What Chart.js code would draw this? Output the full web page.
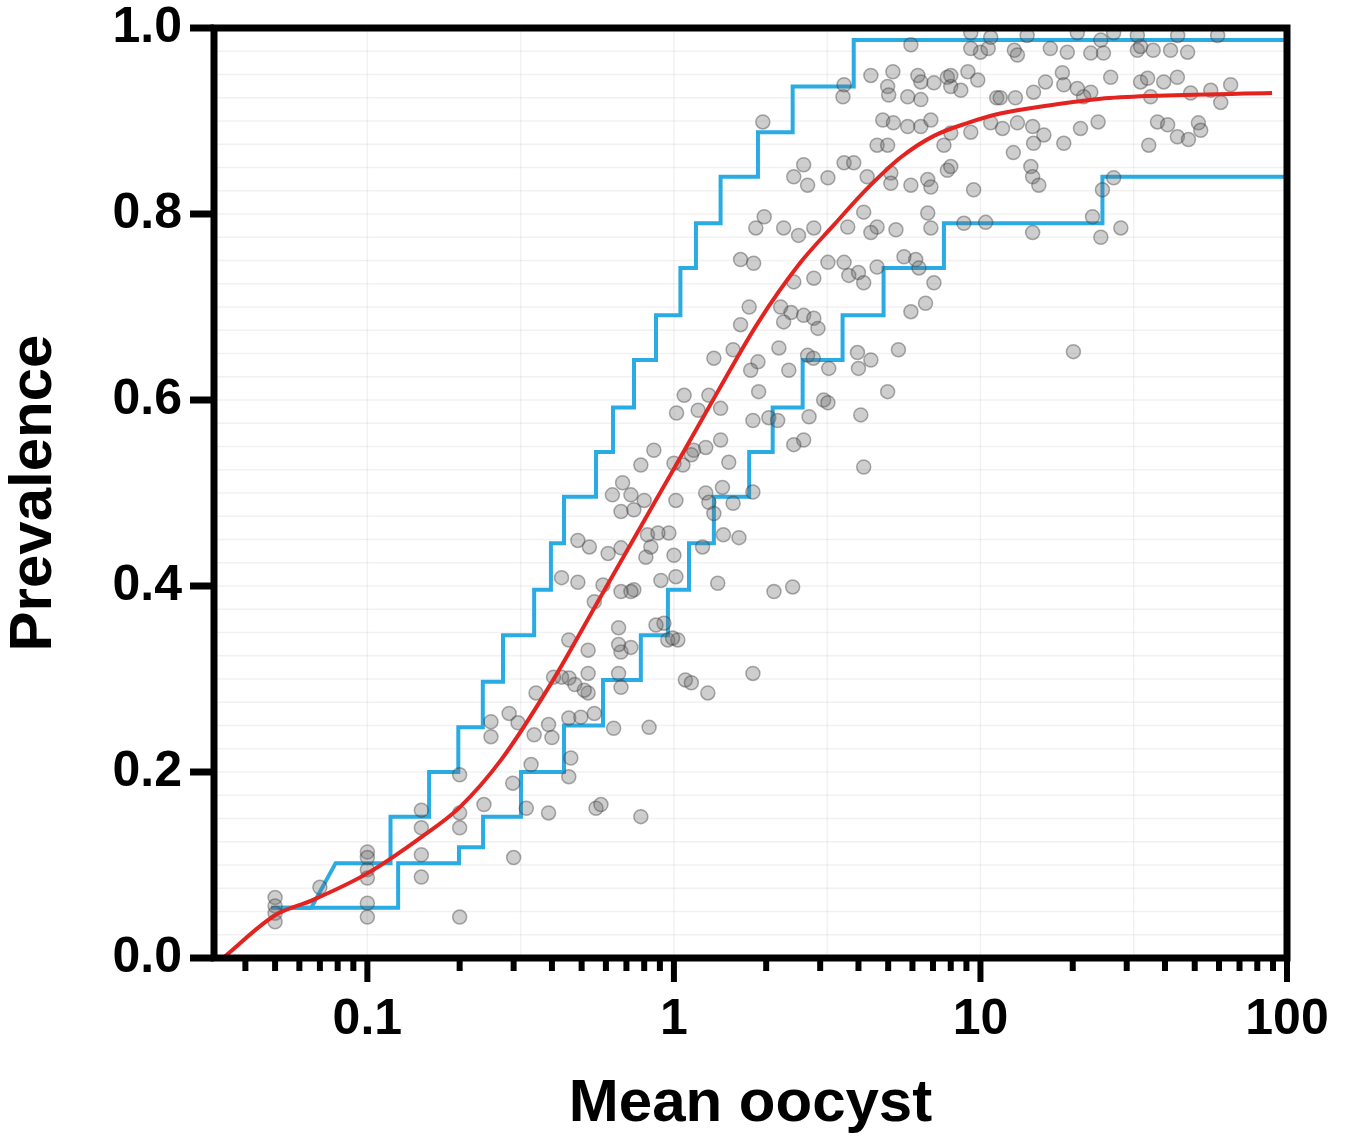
<!DOCTYPE html>
<html>
<head>
<meta charset="utf-8">
<script src="https://cdn.jsdelivr.net/npm/chart.js@4.4.0/dist/chart.umd.min.js"></script>
<style>
  html, body { margin: 0; padding: 0; background: #fff; }
  #wrap { width: 1353px; height: 1137px; }
</style>
</head>
<body>
<div id="wrap"><canvas id="prevChart" width="1353" height="1137"></canvas></div>
<script>
// observed feeds: mean oocyst per mosquito vs prevalence
const meanOocyst = [
  0.05, 0.05, 0.05, 0.05, 0.07, 0.1, 0.1, 0.1, 0.1, 0.1, 0.1, 0.15, 0.15, 0.15, 0.15, 0.2, 0.2, 0.2, 0.2,
  0.253, 0.253, 0.24, 0.298, 0.33, 0.39, 0.30, 0.355, 0.35, 0.342, 0.405, 0.455, 0.525, 0.525, 0.55, 0.557,
  0.29, 0.40, 0.39, 0.461, 0.454, 0.31, 0.454, 0.497, 0.636, 0.83, 1.09, 1.14, 1.29, 1.81, 0.578, 0.78,
  0.51, 0.66, 0.672, 0.43, 0.672, 0.66, 0.724, 0.525, 0.454, 0.955, 1.03, 0.43, 0.486, 0.587, 0.672, 0.55,
  0.74, 0.66, 0.475,
  1.76, 1.65, 2.23, 2.41, 2.65, 2.86, 2.95, 2.28, 5.93, 6.62, 1.35, 1.56, 1.88, 1.78, 1.89, 2.2, 2.37, 2.73,
  2.85, 3.2, 3.97, 4.39, 4.0, 5.4, 4.98, 4.07, 4.16, 1.08, 1.3, 1.2, 1.42, 1.02, 1.81, 2.04, 2.18, 2.76,
  3.08, 3.18, 2.65, 2.46, 0.86, 0.78, 1.16, 1.27, 1.42, 1.14, 1.51, 1.07, 1.0, 0.68, 0.63, 0.724, 0.8,
  0.672, 0.74, 1.015, 1.27, 1.3, 1.44, 1.35, 1.56, 1.81, 0.486, 0.53, 0.61, 0.672, 0.82, 0.963, 0.887,
  0.841, 0.81, 1.0, 1.45, 1.63, 1.24, 0.724, 0.907, 1.015, 1.39, 0.928, 0.874, 0.99, 2.44, 2.12,
  1.95, 3.56, 3.59, 4.39, 5.18, 4.98, 5.02, 5.79, 6.39, 6.25, 6.39, 7.05, 7.8, 8.0, 8.63, 9.1, 9.8, 10.0,
  10.6, 9.3, 5.93, 4.8, 5.2, 5.79, 6.39, 6.89, 4.6, 4.98, 7.6, 9.3, 11.3, 2.65, 3.59, 3.86, 2.46, 2.73,
  3.18, 5.1, 5.93, 6.73, 6.89, 7.8, 9.5, 4.27, 5.1, 1.97, 1.85, 2.28, 2.55, 2.86, 3.69, 4.16, 4.6, 5.3,
  4.39, 6.73, 6.89, 8.83, 5.63, 6.15, 6.3, 7.05, 1.65, 1.82, 3.18, 3.59, 3.72, 4.0, 4.16, 4.6, 2.46, 2.86,
  12.9, 16.9, 19.2, 22.9, 25.2, 32.5, 33.3, 36.6, 41.7, 47.4, 13.2, 9.3, 14.2, 20.7, 27.2, 32.5, 44, 59.4,
  24.7, 10.8, 8.0, 11.6, 13.0, 14.9, 16.3, 18.5, 18.7, 26.6, 33.3, 35.1, 39.6, 43.9, 65.5, 56.4, 60.8,
  48.5, 35.9, 22.9, 21.7, 20.7, 8.0, 10.8, 11.8, 13.2, 14.8, 16.1, 14.9, 12.8, 8.0, 18.7, 21.2, 24.2,
  35.4, 37.8, 40.8, 43.9, 47.7, 51.4, 52.3, 14.6, 14.8, 15.5, 10.4, 14.8, 23.2, 24.7, 28.7, 25.0, 27.2,
  20.1
];
const prevalence = [
  0.065, 0.056, 0.048, 0.039, 0.076, 0.114, 0.108, 0.095, 0.086, 0.059, 0.044, 0.159, 0.14, 0.111, 0.087, 0.197, 0.156, 0.14, 0.044,
  0.254, 0.238, 0.165, 0.188, 0.161, 0.156, 0.108, 0.285, 0.24, 0.208, 0.302, 0.301, 0.306, 0.285, 0.263, 0.161,
  0.263, 0.237, 0.251, 0.215, 0.195, 0.253, 0.258, 0.259, 0.247, 0.248, 0.299, 0.296, 0.285, 0.306, 0.165, 0.152,
  0.288, 0.306, 0.291, 0.302, 0.329, 0.337, 0.334, 0.331, 0.342, 0.342, 0.342, 0.409, 0.404, 0.401, 0.394, 0.383,
  0.396, 0.355, 0.294,
  0.70, 0.681, 0.70, 0.694, 0.691, 0.688, 0.677, 0.684, 0.695, 0.704, 0.645, 0.654, 0.641, 0.632, 0.609, 0.656, 0.632, 0.648,
  0.645, 0.634, 0.651, 0.643, 0.634, 0.654, 0.609, 0.584, 0.528, 0.605, 0.605, 0.589, 0.591, 0.586, 0.578, 0.581, 0.578, 0.582,
  0.60, 0.597, 0.557, 0.552, 0.546, 0.53, 0.546, 0.549, 0.557, 0.541, 0.533, 0.53, 0.532, 0.511, 0.498, 0.498, 0.492,
  0.48, 0.482, 0.492, 0.50, 0.49, 0.506, 0.478, 0.489, 0.501, 0.449, 0.442, 0.435, 0.441, 0.455, 0.457, 0.457,
  0.442, 0.431, 0.433, 0.455, 0.452, 0.442, 0.394, 0.406, 0.41, 0.403, 0.36, 0.358, 0.344, 0.399, 0.394,
  0.899, 0.926, 0.939, 0.949, 0.953, 0.937, 0.928, 0.926, 0.923, 0.949, 0.942, 0.941, 0.947, 0.937, 0.933, 0.953, 0.944, 0.974,
  0.978, 0.978, 0.982, 0.901, 0.898, 0.894, 0.894, 0.901, 0.874, 0.874, 0.874, 0.888, 0.925, 0.853, 0.855, 0.855, 0.84, 0.831,
  0.839, 0.844, 0.831, 0.837, 0.829, 0.847, 0.826, 0.84, 0.833, 0.797, 0.785, 0.785, 0.777, 0.785, 0.786, 0.802, 0.786, 0.783,
  0.78, 0.801, 0.785, 0.79, 0.754, 0.751, 0.742, 0.726, 0.751, 0.747, 0.748, 0.748, 0.734, 0.737, 0.726, 0.743, 0.727, 0.731,
  0.976, 0.978, 0.974, 0.973, 0.973, 0.976, 0.98, 0.976, 0.976, 0.974, 0.971, 0.995, 0.992, 0.995, 0.995, 0.992, 0.992, 0.992,
  0.987, 0.99, 0.949, 0.925, 0.925, 0.931, 0.942, 0.952, 0.939, 0.947, 0.942, 0.946, 0.942, 0.947, 0.939, 0.933, 0.92,
  0.93, 0.926, 0.931, 0.926, 0.935, 0.887, 0.898, 0.892, 0.898, 0.894, 0.885, 0.876, 0.866, 0.851, 0.876, 0.892, 0.899,
  0.874, 0.899, 0.896, 0.883, 0.88, 0.898, 0.89, 0.851, 0.84, 0.831, 0.791, 0.78, 0.797, 0.775, 0.785, 0.826, 0.839,
  0.652
];

// fitted curve
const fitX = [0.0338, 0.05, 0.066, 0.1, 0.15, 0.2, 0.273, 0.397, 0.578, 0.78, 1.0, 1.39, 1.88, 2.59, 3.32, 4.29, 5.5, 7.05, 9.1, 11.6, 16.9, 24.7, 35.9, 89.4];
const fitY = [0.0, 0.046, 0.062, 0.091, 0.13, 0.162, 0.213, 0.295, 0.389, 0.464, 0.526, 0.609, 0.683, 0.748, 0.788, 0.828, 0.861, 0.884, 0.898, 0.908, 0.917, 0.924, 0.927, 0.930];

// upper bound: level i runs from upperFrom[i] to upperTo[i]
const upperFrom = [0.0485, 0.0788, 0.119, 0.159, 0.198, 0.238, 0.277, 0.35, 0.397, 0.438, 0.557, 0.633, 0.741, 0.874, 1.05, 1.18, 1.42, 1.88, 2.44, 3.86];
const upperTo = [0.0656, 0.119, 0.159, 0.198, 0.238, 0.277, 0.35, 0.397, 0.438, 0.557, 0.633, 0.741, 0.874, 1.05, 1.18, 1.42, 1.88, 2.44, 3.86, 100];
const upperLevel = [0.054, 0.102, 0.152, 0.2, 0.248, 0.297, 0.347, 0.396, 0.446, 0.496, 0.544, 0.592, 0.643, 0.691, 0.742, 0.79, 0.84, 0.888, 0.937, 0.987];

// lower bound
const lowerFrom = [0.0503, 0.126, 0.199, 0.2385, 0.317, 0.438, 0.587, 0.78, 0.956, 1.12, 1.35, 1.76, 2.1, 2.63, 3.55, 4.83, 7.6, 25.0];
const lowerTo = [0.126, 0.199, 0.2385, 0.317, 0.438, 0.587, 0.78, 0.956, 1.12, 1.35, 1.76, 2.1, 2.63, 3.55, 4.83, 7.6, 25.0, 100];
const lowerLevel = [0.054, 0.102, 0.119, 0.152, 0.2, 0.25, 0.299, 0.347, 0.396, 0.446, 0.496, 0.544, 0.592, 0.643, 0.691, 0.742, 0.79, 0.84];

const xLabelTicks = [0.1, 1, 10, 100];
const yLabelTicks = [0, 0.2, 0.4, 0.6, 0.8, 1.0];

const FONT = "'Liberation Sans', Arial, Helvetica, sans-serif";
const BLUE = '#2aabe3';
const RED = '#e3231f';

function stepPoints(from, to, level) {
  const pts = [];
  for (let i = 0; i < level.length; i++) {
    pts.push({x: from[i], y: level[i]});
    pts.push({x: to[i], y: level[i]});
  }
  return pts;
}

// drop the label overflow padding chart.js adds, so the layout padding decides the plot box
function noPad(ax) {
  ax.paddingTop = 0; ax.paddingBottom = 0; ax.paddingLeft = 0; ax.paddingRight = 0;
}

// faint grid underneath, thick frame + ticks on top
const framePlugin = {
  id: 'frame',
  beforeDatasetsDraw(chart) {
    const {ctx, chartArea: a, scales: {x, y}} = chart;
    ctx.save();
    ctx.strokeStyle = 'rgba(0,0,0,0.055)';
    ctx.lineWidth = 1.5;
    for (let k = 1; k < 40; k++) {
      const py = y.getPixelForValue(k * 0.025);
      ctx.beginPath(); ctx.moveTo(a.left, py); ctx.lineTo(a.right, py); ctx.stroke();
    }
    for (let e = -1; e < 2; e += 0.5) {
      const px = x.getPixelForValue(Math.pow(10, e));
      ctx.beginPath(); ctx.moveTo(px, a.top); ctx.lineTo(px, a.bottom); ctx.stroke();
    }
    ctx.restore();
  },
  afterDatasetsDraw(chart) {
    const {ctx, chartArea: a, scales: {x, y}} = chart;
    ctx.save();
    ctx.strokeStyle = '#000';
    ctx.lineWidth = 7;
    ctx.strokeRect(a.left, a.top, a.right - a.left, a.bottom - a.top);

    // y ticks
    yLabelTicks.forEach(v => {
      const py = y.getPixelForValue(v);
      ctx.beginPath(); ctx.moveTo(a.left - 24, py); ctx.lineTo(a.left, py); ctx.stroke();
    });

    // x ticks, log minor ticks
    ctx.lineWidth = 6;
    for (let e = -2; e <= 2; e++) {
      for (let m = 1; m <= 9; m++) {
        const v = m * Math.pow(10, e);
        if (v < x.min || v > x.max * 1.0001) continue;
        const px = x.getPixelForValue(v);
        const len = m === 1 ? 24 : 13;
        ctx.beginPath(); ctx.moveTo(px, a.bottom); ctx.lineTo(px, a.bottom + len); ctx.stroke();
      }
    }
    ctx.restore();
  }
};

new Chart(document.getElementById('prevChart'), {
  type: 'scatter',
  data: {
    datasets: [
      {
        label: 'Fit',
        data: fitX.map((v, i) => ({x: v, y: fitY[i]})),
        showLine: true,
        borderColor: RED,
        borderWidth: 4,
        pointRadius: 0,
        cubicInterpolationMode: 'monotone',
        order: 0
      },
      {
        label: 'Observed',
        data: meanOocyst.map((v, i) => ({x: v, y: prevalence[i]})),
        pointRadius: 7,
        pointHoverRadius: 7,
        backgroundColor: 'rgba(105,105,105,0.33)',
        borderColor: 'rgba(60,60,60,0.42)',
        borderWidth: 1.5,
        order: 1
      },
      {
        label: 'Upper',
        data: stepPoints(upperFrom, upperTo, upperLevel),
        showLine: true,
        borderColor: BLUE,
        borderWidth: 4,
        pointRadius: 0,
        order: 2
      },
      {
        label: 'Lower',
        data: stepPoints(lowerFrom, lowerTo, lowerLevel),
        showLine: true,
        borderColor: BLUE,
        borderWidth: 4,
        pointRadius: 0,
        order: 2
      }
    ]
  },
  options: {
    responsive: false,
    devicePixelRatio: 1,
    animation: false,
    layout: { padding: { top: 28, right: 66, left: 0, bottom: 0 } },
    plugins: { legend: { display: false }, tooltip: { enabled: false } },
    scales: {
      x: {
        type: 'logarithmic',
        min: 0.0316,
        max: 100,
        afterBuildTicks: ax => { ax.ticks = xLabelTicks.map(v => ({value: v})); },
        afterFit: ax => { ax.height = 179; noPad(ax); },
        grid: { display: false, drawTicks: false },
        border: { display: false },
        ticks: {
          autoSkip: false,
          maxRotation: 0,
          padding: 37,
          color: '#000',
          font: { family: FONT, size: 50, weight: 'bold', lineHeight: 1 },
          callback: v => String(v)
        },
        title: {
          display: true,
          text: 'Mean oocyst',
          color: '#000',
          font: { family: FONT, size: 60, weight: 'bold', lineHeight: 1 },
          padding: { top: 0, bottom: 3 }
        }
      },
      y: {
        min: 0,
        max: 1,
        afterBuildTicks: ax => { ax.ticks = yLabelTicks.map(v => ({value: v})); },
        afterFit: ax => { ax.width = 214; noPad(ax); },
        grid: { display: false, drawTicks: false },
        border: { display: false },
        ticks: {
          autoSkip: false,
          padding: 32,
          color: '#000',
          font: { family: FONT, size: 50, weight: 'bold', lineHeight: 1 },
          callback: v => v.toFixed(1)
        },
        title: {
          display: true,
          text: 'Prevalence',
          color: '#000',
          font: { family: FONT, size: 60, weight: 'bold', lineHeight: 1 },
          padding: { top: 4, bottom: 0 }
        }
      }
    }
  },
  plugins: [framePlugin]
});
</script>
</body>
</html>
